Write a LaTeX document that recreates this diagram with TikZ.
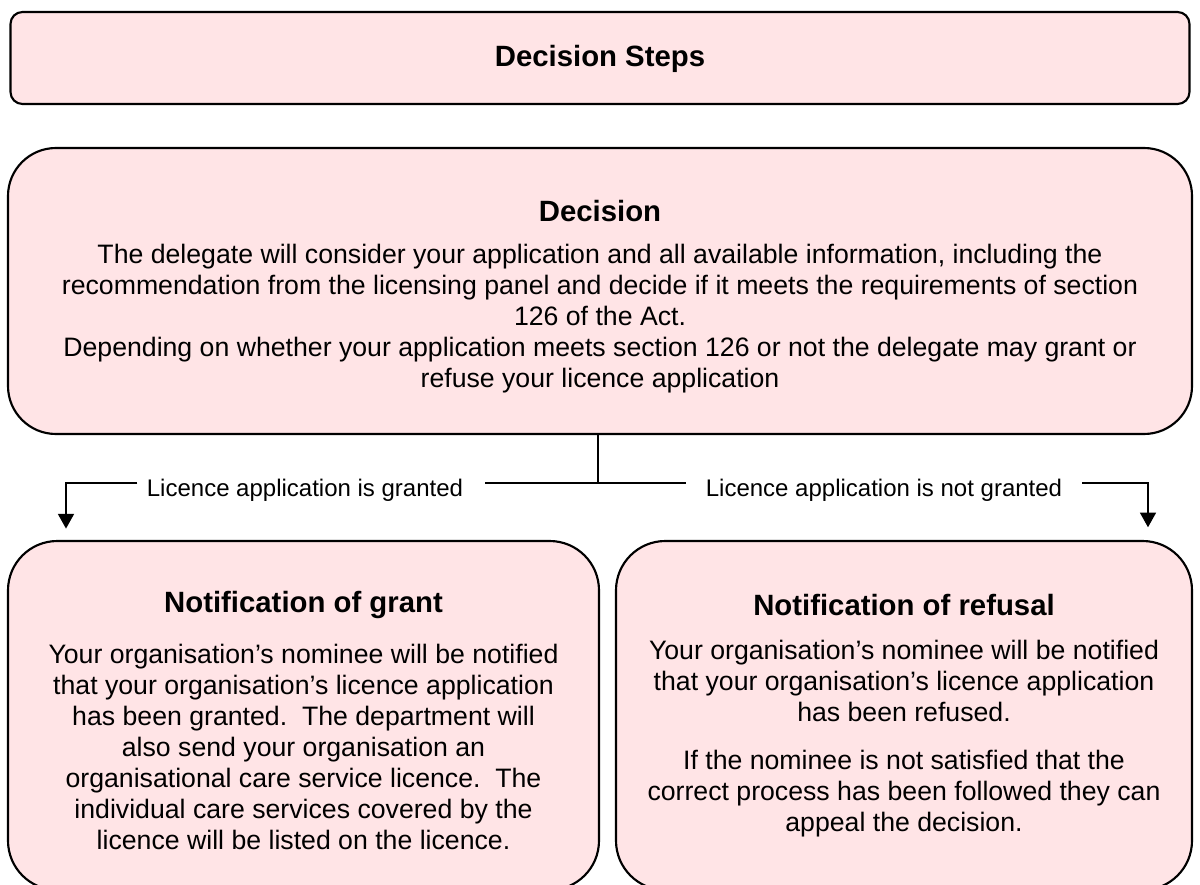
\documentclass[tikz,border=0pt]{standalone}
\usepackage{fontspec}
\setmainfont{Liberation Sans}
\usetikzlibrary{arrows.meta}
\definecolor{boxfill}{HTML}{FFE4E6}
\begin{document}
\begin{tikzpicture}[x=0.75pt,y=-0.75pt,
  box/.style={draw=black,line width=1.6pt,fill=boxfill},
  conn/.style={line width=1.1pt,draw=black},
  arr/.style={conn,-{Triangle[width=12pt,length=11pt]}},
  titletext/.style={font=\fontsize{22}{26}\selectfont\bfseries,inner sep=0pt},
  bodytext/.style={font=\fontsize{20}{23.25}\selectfont,align=center,inner sep=0pt},
  labeltext/.style={font=\fontsize{18}{21}\selectfont,inner sep=0pt}]
\useasboundingbox (0,0) rectangle (1200,885);
% boxes
\node[box,rounded corners=9pt,minimum width=884.25pt,minimum height=69pt,inner sep=0pt] (steps) at (600,58) {};
\node[box,rounded corners=36pt,minimum width=888pt,minimum height=214.5pt,inner sep=0pt] (decision) at (600,291) {};
\node[box,rounded corners=37pt,minimum width=443.25pt,minimum height=261.75pt,inner sep=0pt] (grant) at (303.5,715.5) {};
\node[box,rounded corners=37pt,minimum width=432pt,minimum height=261.75pt,inner sep=0pt] (refusal) at (904,715.5) {};
% texts
\node[titletext] (stepst) at (600,59) {Decision Steps};
\node[titletext] (dect) at (600,211) {Decision};
\node[bodytext] (decb) at (600,319) {The delegate will consider your application and all available information, including the\\
recommendation from the licensing panel and decide if it meets the requirements of section\\
126 of the Act.\\
Depending on whether your application meets section 126 or not the delegate may grant or\\
refuse your licence application};
\node[titletext] (grantt) at (303.5,605) {Notification of grant};
\node[bodytext] (grantb) at (303.5,747) {Your organisation’s nominee will be notified\\
that your organisation’s licence application\\
has been granted.\ \ The department will\\
also send your organisation an\\
organisational care service licence.\ \ The\\
individual care services covered by the\\
licence will be listed on the licence.};
\node[titletext] (refut) at (904,605) {Notification of refusal};
\node[bodytext] (refub) at (904,739) {Your organisation’s nominee will be notified\\
that your organisation’s licence application\\
has been refused.\\[12.75pt]
If the nominee is not satisfied that the\\
correct process has been followed they can\\
appeal the decision.};
% labels
\node[labeltext] (lab1) at (305,490) {Licence application is granted};
\node[labeltext] (lab2) at (884,490) {Licence application is not granted};
% connectors
\coordinate (split) at (598,483);
\coordinate (lturn) at (66,483);
\coordinate (rturn) at (1148,483);
\draw[conn] (decision.south -| split) -- (split);
\draw[conn] (split) -- ([xshift=16.5pt]lab1.east |- split);
\draw[arr,shorten >=8.5pt] ([xshift=-7pt]lab1.west |- split) -- (lturn) -- (grant.north -| lturn);
\draw[conn] (split) -- ([xshift=-14.5pt]lab2.west |- split);
\draw[arr,shorten >=9.5pt] ([xshift=15pt]lab2.east |- split) -- (rturn) -- (refusal.north -| rturn);
\end{tikzpicture}
\end{document}
